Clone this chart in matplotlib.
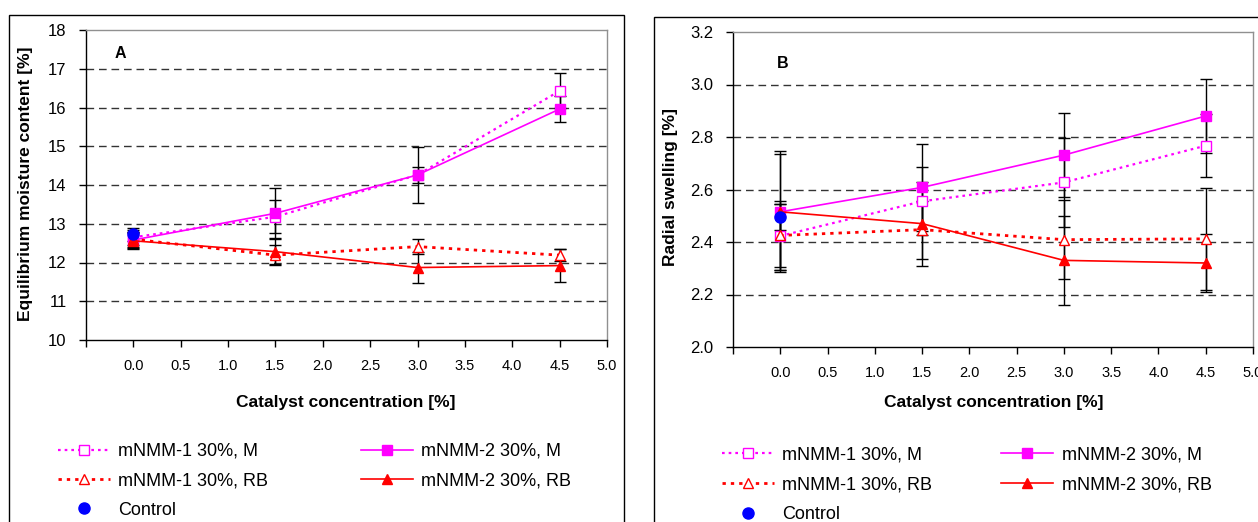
#!/usr/bin/env python3
"""Equilibrium moisture content (A) and radial swelling (B) vs catalyst concentration."""

import matplotlib

matplotlib.use("Agg")
import matplotlib.pyplot as plt
from matplotlib.patches import Rectangle

W, H = 1258, 522

# catalyst concentration [%]
conc = [0.0, 1.5, 3.0, 4.5]

# panel A - equilibrium moisture content [%]
emc_m1_m = [12.65, 13.18, 14.26, 16.43]
emc_m1_m_err = [0.20, 0.43, 0.72, 0.45]
emc_m2_m = [12.58, 13.27, 14.26, 15.96]
emc_m2_m_err = [0.20, 0.65, 0.20, 0.34]
emc_m1_rb = [12.60, 12.19, 12.41, 12.19]
emc_m1_rb_err = [0.20, 0.25, 0.20, 0.15]
emc_m2_rb = [12.56, 12.28, 11.87, 11.92]
emc_m2_rb_err = [0.20, 0.33, 0.40, 0.43]
emc_control = 12.73
emc_control_err = 0.17

# panel B - radial swelling [%]
rs_m1_m = [2.423, 2.555, 2.627, 2.767]
rs_m1_m_err = [0.12, 0.13, 0.17, 0.12]
rs_m2_m = [2.515, 2.608, 2.731, 2.880]
rs_m2_m_err = [0.23, 0.167, 0.16, 0.14]
rs_m1_rb = [2.425, 2.447, 2.409, 2.412]
rs_m1_rb_err = [0.13, 0.11, 0.15, 0.195]
rs_m2_rb = [2.515, 2.470, 2.330, 2.320]
rs_m2_rb_err = [0.22, 0.16, 0.17, 0.11]
rs_control = 2.496
rs_control_err = 0.05

labels = ["mNMM-1 30%, M", "mNMM-2 30%, M", "mNMM-1 30%, RB", "mNMM-2 30%, RB", "Control"]
x_ticks = [0.0, 0.5, 1.0, 1.5, 2.0, 2.5, 3.0, 3.5, 4.0, 4.5, 5.0]

MAG = "#FF00FF"
RED = "#FF0000"
BLUE = "#0000FF"

plt.rcParams.update(
    {
        "font.family": ["Liberation Sans", "DejaVu Sans"],
        "axes.linewidth": 1.0,
    }
)


def px(x, y):
    return x / W, 1 - y / H


def draw_panel(ax, series, control, control_err, ylim, yticks, yfmt):
    styles = [
        dict(color=MAG, ls=(0, (1.2, 1.8)), lw=1.6, marker="s", mfc="white", mec=MAG, mew=1.0, ms=6.5),
        dict(color=MAG, ls="-", lw=1.2, marker="s", mfc=MAG, mec=MAG, ms=6.5),
        dict(color=RED, ls=(0, (1.2, 1.8)), lw=2.0, marker="^", mfc="white", mec=RED, mew=1.0, ms=7),
        dict(color=RED, ls="-", lw=1.2, marker="^", mfc=RED, mec=RED, ms=7),
    ]
    handles = []
    for (vals, errs), st, lab in zip(series, styles, labels[:4]):
        ax.errorbar(conc, vals, yerr=errs, fmt="none", ecolor="black", elinewidth=1.0,
                    capsize=4, capthick=1.0, zorder=3)
        (h,) = ax.plot(conc, vals, label=lab, zorder=4, **st)
        handles.append(h)
    ax.errorbar([0.0], [control], yerr=[control_err], fmt="none", ecolor="black",
                elinewidth=1.0, capsize=4, capthick=1.0, zorder=3)
    (hc,) = ax.plot([0.0], [control], ls="none", marker="o", color=BLUE, ms=8,
                    label=labels[4], zorder=5)
    handles.append(hc)

    ax.set_xlim(-0.5, 5.0)
    ax.set_xticks([-0.5] + x_ticks)
    ax.set_xticklabels([""] + [f"{v:.1f}" for v in x_ticks])
    ax.set_ylim(*ylim)
    ax.set_yticks(yticks)
    ax.set_yticklabels([yfmt.format(v) for v in yticks])
    ax.tick_params(axis="x", direction="out", length=5, width=1, labelsize=10.5, pad=9)
    ax.tick_params(axis="y", direction="out", length=5, width=1, labelsize=12, pad=9)
    for t in yticks[1:-1]:
        ax.axhline(t, color="#333333", lw=1.0, ls=(0, (5.5, 3.5)), zorder=1)
    ax.spines["top"].set_color("#909090")
    ax.spines["right"].set_color("#909090")
    return handles


fig = plt.figure(figsize=(W / 100, H / 100), dpi=100)

# panel borders
fig.patches.append(Rectangle(px(9, 600), 615 / W, (600 - 15) / H, transform=fig.transFigure,
                             fill=False, ec="black", lw=1.0))
fig.patches.append(Rectangle(px(654, 600), 700 / W, (600 - 17) / H, transform=fig.transFigure,
                             fill=False, ec="black", lw=1.0))

axA = fig.add_axes([86 / W, 1 - 340 / H, (607 - 86) / W, (340 - 30) / H])
hA = draw_panel(
    axA,
    [(emc_m1_m, emc_m1_m_err), (emc_m2_m, emc_m2_m_err),
     (emc_m1_rb, emc_m1_rb_err), (emc_m2_rb, emc_m2_rb_err)],
    emc_control, emc_control_err, (10, 18), list(range(10, 19)), "{:d}",
)

axB = fig.add_axes([733 / W, 1 - 347 / H, (1253 - 733) / W, (347 - 32) / H])
hB = draw_panel(
    axB,
    [(rs_m1_m, rs_m1_m_err), (rs_m2_m, rs_m2_m_err),
     (rs_m1_rb, rs_m1_rb_err), (rs_m2_rb, rs_m2_rb_err)],
    rs_control, rs_control_err, (2.0, 3.2), [2.0, 2.2, 2.4, 2.6, 2.8, 3.0, 3.2], "{:.1f}",
)

# axis labels and panel letters
fig.text(*px(26, 184), "Equilibrium moisture content [%]", rotation=90, ha="center", va="center",
         fontsize=12.5, fontweight="bold")
fig.text(*px(670, 187), "Radial swelling [%]", rotation=90, ha="center", va="center",
         fontsize=12.5, fontweight="bold")
fig.text(*px(346, 402), "Catalyst concentration [%]", ha="center", va="center",
         fontsize=12.5, fontweight="bold")
fig.text(*px(994, 403), "Catalyst concentration [%]", ha="center", va="center",
         fontsize=12.5, fontweight="bold")
fig.text(*px(120, 53), "A", ha="center", va="center", fontsize=11.5, fontweight="bold")
fig.text(*px(783, 64), "B", ha="center", va="center", fontsize=11.5, fontweight="bold")

order = [0, 2, 4, 1, 3]
legA = fig.legend([hA[i] for i in order], [labels[i] for i in order], ncol=2,
                  loc="upper left", bbox_to_anchor=px(58, 443), frameon=False,
                  fontsize=13, handlelength=2.9, handletextpad=0.45, columnspacing=5.1,
                  labelspacing=0.68, borderpad=0, borderaxespad=0)
legB = fig.legend([hB[i] for i in order], [labels[i] for i in order], ncol=2,
                  loc="upper left", bbox_to_anchor=px(722, 446), frameon=False,
                  fontsize=13, handlelength=2.9, handletextpad=0.45, columnspacing=3.8,
                  labelspacing=0.72, borderpad=0, borderaxespad=0)

fig.savefig("out.png", dpi=100)
